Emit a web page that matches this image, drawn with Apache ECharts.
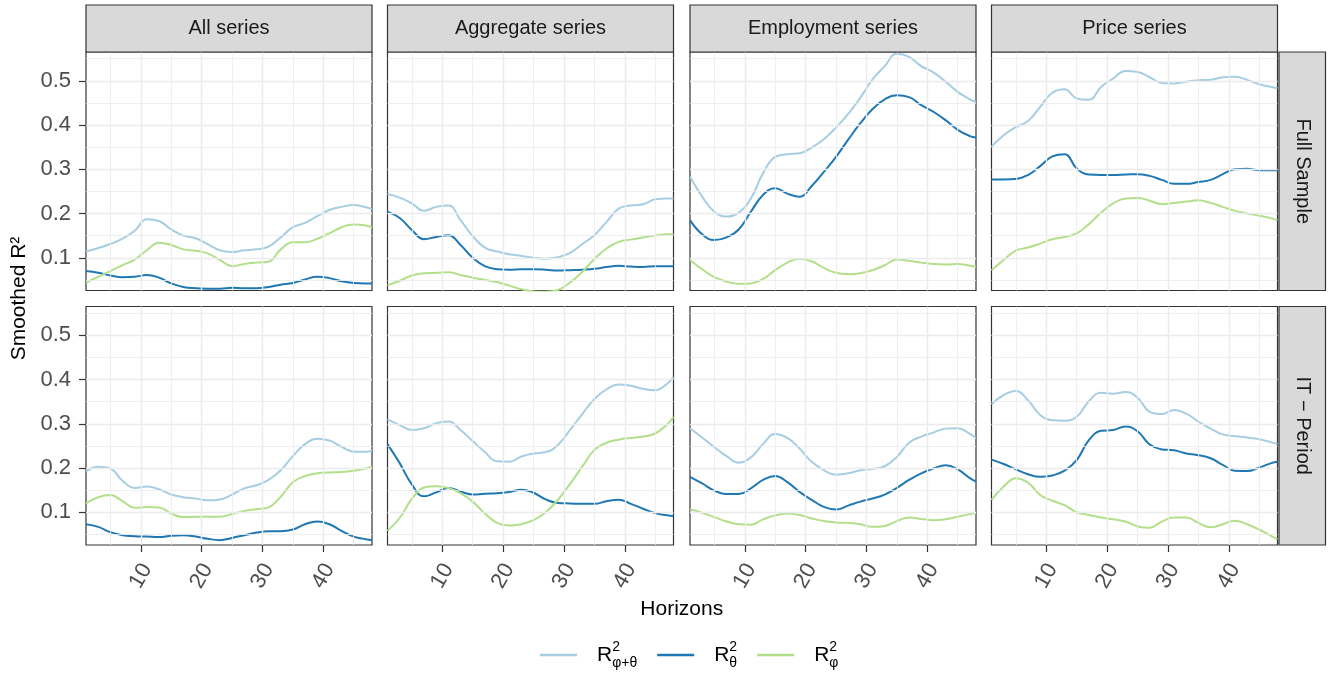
<!DOCTYPE html>
<html>
<head>
<meta charset="utf-8">
<script src="https://cdn.jsdelivr.net/npm/echarts@6/dist/echarts.min.js"></script>
<style>
  html, body { margin: 0; padding: 0; background: #ffffff; }
  #chart { width: 1329px; height: 677px; }
</style>
</head>
<body>
<div id="chart"></div>
<script>
// Forecast horizons at which the smoothed curves are sampled
const horizons = [1, 3, 5, 7, 9, 11, 13, 15, 17, 19, 21, 23, 25, 27, 29, 31, 33, 35, 37, 39, 41, 43, 45, 47, 48];

const columnLabels = ['All series', 'Aggregate series', 'Employment series', 'Price series'];
const rowLabels = ['Full Sample', 'IT \u2212 Period'];
const yTickValues = [0.1, 0.2, 0.3, 0.4, 0.5];
const xTickValues = [10, 20, 30, 40];
const seriesNames = ['R2 phi+theta', 'R2 theta', 'R2 phi'];
const seriesSubscripts = ['\u03c6+\u03b8', '\u03b8', '\u03c6'];
const seriesColors = ['#a6cee3', '#1f78b4', '#b2df8a'];

// Full sample
const fullAllJoint = [0.114,0.122,0.131,0.143,0.161,0.187,0.183,0.164,0.150,0.144,0.131,0.117,0.113,0.117,0.119,0.125,0.146,0.169,0.179,0.194,0.208,0.215,0.219,0.214,0.210];
const fullAllTheta = [0.070,0.066,0.060,0.056,0.057,0.061,0.055,0.042,0.034,0.031,0.030,0.030,0.032,0.031,0.031,0.034,0.039,0.043,0.051,0.057,0.054,0.047,0.043,0.042,0.042];
const fullAllPhi   = [0.044,0.057,0.070,0.083,0.096,0.117,0.134,0.129,0.119,0.116,0.110,0.095,0.081,0.086,0.089,0.091,0.119,0.135,0.135,0.143,0.155,0.169,0.175,0.173,0.168];

const fullAggJoint = [0.244,0.236,0.223,0.206,0.215,0.218,0.185,0.149,0.123,0.114,0.108,0.104,0.100,0.098,0.101,0.111,0.131,0.151,0.181,0.211,0.218,0.221,0.232,0.234,0.234];
const fullAggTheta = [0.204,0.190,0.163,0.142,0.147,0.151,0.129,0.100,0.081,0.074,0.073,0.074,0.074,0.073,0.071,0.072,0.073,0.075,0.079,0.082,0.080,0.079,0.081,0.081,0.081];
const fullAggPhi   = [0.038,0.048,0.060,0.065,0.066,0.067,0.061,0.055,0.050,0.045,0.037,0.029,0.024,0.023,0.027,0.044,0.068,0.097,0.121,0.136,0.141,0.146,0.150,0.153,0.153];

const fullEmpJoint = [0.283,0.238,0.204,0.193,0.202,0.234,0.291,0.328,0.334,0.336,0.349,0.368,0.394,0.425,0.462,0.503,0.533,0.561,0.554,0.533,0.519,0.498,0.475,0.458,0.452];
const fullEmpTheta = [0.185,0.153,0.140,0.146,0.164,0.204,0.242,0.257,0.245,0.238,0.262,0.294,0.328,0.367,0.404,0.436,0.458,0.467,0.463,0.445,0.430,0.411,0.389,0.375,0.372];
const fullEmpPhi   = [0.095,0.074,0.056,0.046,0.041,0.042,0.052,0.072,0.089,0.098,0.092,0.077,0.066,0.063,0.065,0.072,0.083,0.096,0.093,0.089,0.086,0.085,0.086,0.082,0.080];

const fullPriceJoint = [0.351,0.377,0.395,0.409,0.441,0.473,0.481,0.460,0.457,0.486,0.505,0.522,0.520,0.508,0.495,0.494,0.498,0.501,0.502,0.508,0.509,0.502,0.492,0.486,0.483];
const fullPriceTheta = [0.277,0.277,0.278,0.287,0.307,0.329,0.334,0.302,0.288,0.287,0.287,0.288,0.289,0.285,0.276,0.267,0.267,0.271,0.276,0.289,0.300,0.301,0.298,0.298,0.298];
const fullPricePhi   = [0.072,0.095,0.116,0.123,0.132,0.142,0.147,0.155,0.176,0.202,0.223,0.234,0.235,0.229,0.221,0.224,0.227,0.230,0.224,0.215,0.206,0.200,0.195,0.189,0.185];

// IT period
const itAllJoint = [0.192,0.203,0.199,0.171,0.155,0.158,0.152,0.140,0.134,0.131,0.127,0.129,0.140,0.154,0.161,0.173,0.195,0.227,0.254,0.266,0.262,0.248,0.237,0.237,0.239];
const itAllTheta = [0.073,0.067,0.055,0.048,0.046,0.045,0.044,0.047,0.048,0.045,0.040,0.037,0.042,0.048,0.054,0.057,0.057,0.061,0.073,0.079,0.073,0.058,0.045,0.039,0.037];
const itAllPhi   = [0.120,0.134,0.139,0.125,0.110,0.112,0.111,0.097,0.089,0.090,0.090,0.090,0.096,0.103,0.107,0.111,0.135,0.168,0.182,0.188,0.190,0.191,0.194,0.199,0.203];

const itAggJoint = [0.310,0.297,0.286,0.290,0.301,0.305,0.286,0.261,0.236,0.215,0.214,0.226,0.233,0.236,0.252,0.286,0.322,0.356,0.378,0.389,0.386,0.379,0.376,0.391,0.406];
const itAggTheta = [0.254,0.211,0.163,0.136,0.145,0.155,0.147,0.140,0.142,0.143,0.146,0.151,0.144,0.129,0.121,0.120,0.119,0.119,0.125,0.128,0.119,0.108,0.098,0.093,0.091];
const itAggPhi   = [0.058,0.087,0.130,0.156,0.159,0.155,0.143,0.124,0.097,0.076,0.070,0.073,0.082,0.100,0.128,0.164,0.203,0.241,0.257,0.264,0.268,0.271,0.278,0.299,0.316];

const itEmpJoint = [0.290,0.269,0.247,0.227,0.212,0.224,0.254,0.277,0.268,0.244,0.214,0.195,0.185,0.188,0.195,0.198,0.204,0.225,0.257,0.271,0.280,0.289,0.290,0.277,0.267];
const itEmpTheta = [0.180,0.165,0.149,0.141,0.141,0.154,0.173,0.182,0.168,0.146,0.128,0.112,0.106,0.115,0.124,0.131,0.140,0.155,0.173,0.188,0.199,0.206,0.197,0.177,0.169];
const itEmpPhi   = [0.107,0.099,0.089,0.079,0.073,0.072,0.084,0.093,0.097,0.094,0.086,0.080,0.077,0.076,0.073,0.067,0.069,0.080,0.088,0.085,0.082,0.084,0.090,0.096,0.099];

const itPriceJoint = [0.344,0.365,0.374,0.353,0.320,0.308,0.307,0.316,0.351,0.370,0.368,0.372,0.359,0.327,0.322,0.331,0.323,0.305,0.289,0.276,0.272,0.269,0.265,0.258,0.254];
const itPriceTheta = [0.219,0.209,0.197,0.186,0.180,0.183,0.194,0.218,0.263,0.284,0.286,0.294,0.283,0.253,0.242,0.240,0.233,0.229,0.222,0.207,0.194,0.193,0.201,0.211,0.214];
const itPricePhi   = [0.128,0.158,0.177,0.167,0.139,0.126,0.116,0.100,0.094,0.088,0.084,0.079,0.068,0.065,0.079,0.088,0.088,0.076,0.066,0.073,0.081,0.073,0.061,0.046,0.039];

// panels[row][col] -> [joint, theta, phi]
const panels = [
  [[fullAllJoint, fullAllTheta, fullAllPhi], [fullAggJoint, fullAggTheta, fullAggPhi],
   [fullEmpJoint, fullEmpTheta, fullEmpPhi], [fullPriceJoint, fullPriceTheta, fullPricePhi]],
  [[itAllJoint, itAllTheta, itAllPhi], [itAggJoint, itAggTheta, itAggPhi],
   [itEmpJoint, itEmpTheta, itEmpPhi], [itPriceJoint, itPriceTheta, itPricePhi]]
];

// Facet layout (pixels)
const colLeft = [86, 387.5, 690, 991.5];
const colWidth = 286;
const rowTop = [52, 306.5];
const rowHeight = 238.5;
const stripHeight = 47;
const stripWidth = 46.5;
const yMin = 0.026, yMax = 0.565;
const FONT = '"Liberation Sans", Arial, Helvetica, sans-serif';

const grids = [], xAxes = [], yAxes = [], series = [];
const majorGrid = { color: '#ebebeb', width: 1.4, type: 'solid' };
const minorGrid = { color: '#ebebeb', width: 0.8, type: 'solid' };
const gridLineItems = [];
[5, 15, 25, 35, 45].forEach(v => gridLineItems.push({ xAxis: v, lineStyle: minorGrid }));
[10, 20, 30, 40].forEach(v => gridLineItems.push({ xAxis: v, lineStyle: majorGrid }));
[0.05, 0.15, 0.25, 0.35, 0.45, 0.55].forEach(v => gridLineItems.push({ yAxis: v, lineStyle: minorGrid }));
yTickValues.forEach(v => gridLineItems.push({ yAxis: v, lineStyle: majorGrid }));

for (let r = 0; r < 2; r++) {
  for (let c = 0; c < 4; c++) {
    const i = r * 4 + c;
    grids.push({
      left: colLeft[c], top: rowTop[r], width: colWidth, height: rowHeight,
      show: true, borderColor: '#333333', borderWidth: 1.2, backgroundColor: 'transparent'
    });
    xAxes.push({
      gridIndex: i, type: 'value', min: 1, max: 48,
      axisLine: { show: false }, splitLine: { show: false },
      axisTick: { show: r === 1, customValues: xTickValues, length: 7, lineStyle: { color: '#333333', width: 1.2 } },
      axisLabel: {
        show: r === 1, customValues: xTickValues, rotate: 60, margin: 31,
        align: 'center', verticalAlign: 'middle',
        fontSize: 22, color: '#4d4d4d', fontFamily: FONT
      }
    });
    yAxes.push({
      gridIndex: i, type: 'value', min: yMin, max: yMax,
      axisLine: { show: false }, splitLine: { show: false },
      axisTick: { show: c === 0, customValues: yTickValues, length: 7, lineStyle: { color: '#333333', width: 1.2 } },
      axisLabel: {
        show: c === 0, customValues: yTickValues, margin: 15,
        fontSize: 22, color: '#4d4d4d', fontFamily: FONT,
        formatter: v => v.toFixed(1)
      }
    });
    // background grid of the panel
    series.push({
      type: 'line', xAxisIndex: i, yAxisIndex: i, data: [], silent: true, z: 1,
      markLine: {
        silent: true, symbol: ['none', 'none'], animation: false,
        label: { show: false }, emphasis: { disabled: true },
        data: gridLineItems
      }
    });
    panels[r][c].forEach((vals, k) => {
      series.push({
        type: 'line', name: seriesNames[k], xAxisIndex: i, yAxisIndex: i,
        data: horizons.map((h, j) => [h, vals[j]]),
        smooth: 0.45, symbol: 'none', showSymbol: false, silent: true, z: 3,
        lineStyle: { color: seriesColors[k], width: 2 },
        itemStyle: { color: seriesColors[k] }
      });
    });
  }
}

// Facet strips and axis titles
const graphics = [];
columnLabels.forEach((label, c) => {
  graphics.push({
    type: 'rect', z: 10,
    shape: { x: colLeft[c], y: rowTop[0] - stripHeight, width: colWidth, height: stripHeight },
    style: { fill: '#d9d9d9', stroke: '#333333', lineWidth: 1.2 }
  });
  graphics.push({
    type: 'text', z: 11, x: colLeft[c] + colWidth / 2, y: rowTop[0] - stripHeight / 2,
    style: { text: label, fontSize: 20, fontFamily: FONT, fill: '#1a1a1a', align: 'center', verticalAlign: 'middle' }
  });
});
rowLabels.forEach((label, r) => {
  const sx = colLeft[3] + colWidth + 1.5;
  graphics.push({
    type: 'rect', z: 10,
    shape: { x: sx, y: rowTop[r], width: stripWidth, height: rowHeight },
    style: { fill: '#d9d9d9', stroke: '#333333', lineWidth: 1.2 }
  });
  graphics.push({
    type: 'text', z: 11, x: sx + stripWidth / 2, y: rowTop[r] + rowHeight / 2, rotation: -Math.PI / 2,
    style: { text: label, fontSize: 20, fontFamily: FONT, fill: '#1a1a1a', align: 'center', verticalAlign: 'middle' }
  });
});
graphics.push({
  type: 'text', z: 11, x: colLeft[0] + (colLeft[3] + colWidth - colLeft[0]) / 2, y: 609,
  style: { text: 'Horizons', fontSize: 21, fontFamily: FONT, fill: '#000000', align: 'center', verticalAlign: 'middle' }
});
graphics.push({
  type: 'text', z: 11, x: 19, y: rowTop[0] + (rowTop[1] + rowHeight - rowTop[0]) / 2, rotation: Math.PI / 2,
  style: { text: 'Smoothed R\u00b2', fontSize: 21, fontFamily: FONT, fill: '#000000', align: 'center', verticalAlign: 'middle' }
});

const chart = echarts.init(document.getElementById('chart'), null, { renderer: 'canvas' });
chart.setOption({
  animation: false,
  backgroundColor: '#ffffff',
  textStyle: { fontFamily: FONT },
  grid: grids,
  xAxis: xAxes,
  yAxis: yAxes,
  series: series,
  graphic: graphics,
  legend: {
    data: seriesNames,
    left: 540, top: 640, padding: 0,
    icon: 'rect',
    itemWidth: 37, itemHeight: 2.5, itemGap: 20,
    selectedMode: false,
    formatter: name => '{r|R}{sup|2}{sub|' + seriesSubscripts[seriesNames.indexOf(name)] + '}',
    textStyle: {
      fontFamily: FONT, color: '#000000', fontSize: 21,
      rich: {
        r: { fontSize: 21, fontFamily: FONT, color: '#000000', padding: [0, 0, 0, 15], lineHeight: 36 },
        sup: { fontSize: 14, fontFamily: FONT, color: '#000000', padding: [0, 0, 16, 0], width: 0 },
        sub: { fontSize: 14, fontFamily: FONT, color: '#000000', padding: [16, 0, 0, 0] }
      }
    }
  }
});
</script>
</body>
</html>
